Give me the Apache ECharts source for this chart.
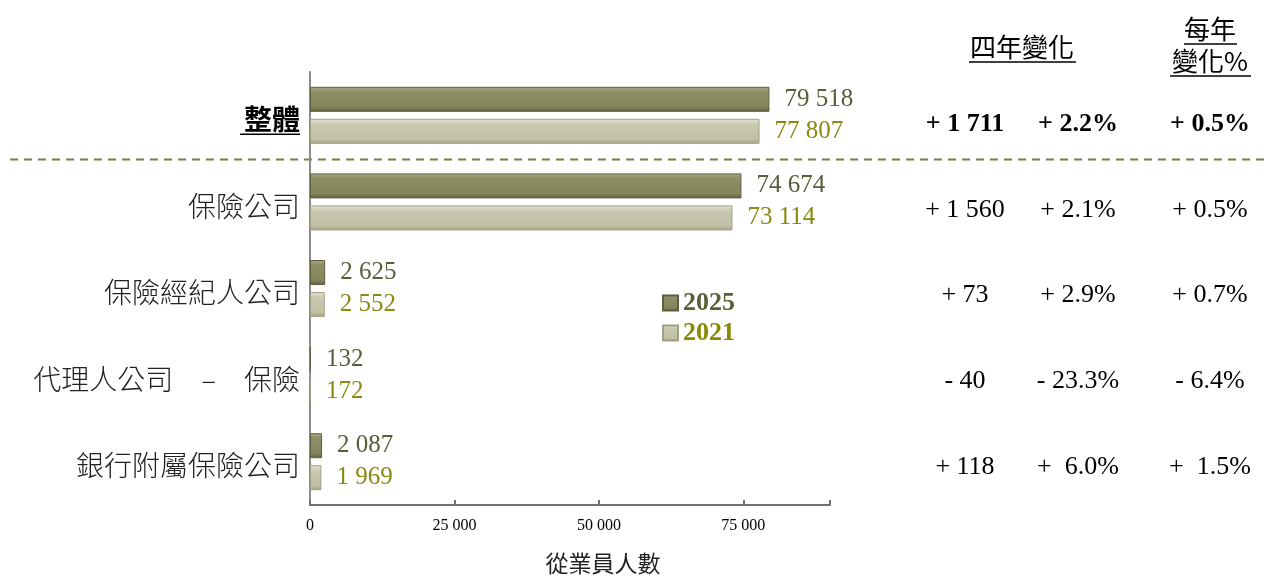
<!DOCTYPE html>
<html><head><meta charset="utf-8">
<script src="https://cdn.jsdelivr.net/npm/echarts@6/dist/echarts.min.js"></script>
<style>html,body{margin:0;padding:0;background:#fff}#c{width:1264px;height:576px}</style>
</head><body><div id="c"></div>
<script>
const categories = ['整體', '保險公司', '保險經紀人公司', '代理人公司　–　保險', '銀行附屬保險公司'];
const v2025 = [79518, 74674, 2625, 132, 2087];
const v2021 = [77807, 73114, 2552, 172, 1969];
const changeAbs = ['+ 1 711', '+ 1 560', '+ 73', '- 40', '+ 118'];
const changePct = ['+ 2.2%', '+ 2.1%', '+ 2.9%', '- 23.3%', '+  6.0%'];
const annualPct = ['+ 0.5%', '+ 0.5%', '+ 0.7%', '- 6.4%', '+  1.5%'];
const xTicks = [0, 25000, 50000, 75000];
const seriesNames = ['2025', '2021'];

const fmt = v => String(v).replace(/\B(?=(\d{3})+(?!\d))/g, ' ');
const CJK = '"Noto Sans CJK TC","Noto Sans CJK SC",sans-serif';
const SERIF = '"Liberation Serif","DejaVu Serif",serif';

const chart = echarts.init(document.getElementById('c'));
const grad = (stops) => new echarts.graphic.LinearGradient(0, 0, 0, 1, stops.map((c, i) => ({offset: c[0], color: c[1]})));
const c2025 = grad([[0,'#a8a884'],[0.2,'#8e8e66'],[0.8,'#86865d'],[1,'#5e5e3e']]);
const c2021 = grad([[0,'#e0e0cf'],[0.25,'#c8c8b0'],[0.8,'#c1c1a6'],[1,'#a3a388']]);

chart.setOption({
  animation: false,
  grid: {left: 310, right: 434, top: 72, bottom: 71, containLabel: false, outerBoundsMode: 'none'},
  legend: {
    orient: 'vertical', left: 662, top: 290, padding: 0, itemWidth: 15, itemHeight: 15, itemGap: 4, icon: 'rect',
    textStyle: {fontFamily: SERIF, fontSize: 26, fontWeight: 'bold'},
    data: [
      {name: seriesNames[0], textStyle: {color: '#5c5e36'}},
      {name: seriesNames[1], textStyle: {color: '#8a8a00'}}
    ]
  },
  xAxis: {
    type: 'value', min: 0, max: 90000, interval: 25000,
    axisLine: {show: true, lineStyle: {color: '#707070', width: 2}},
    axisTick: {show: true, inside: true, length: 5, lineStyle: {color: '#707070', width: 2}},
    splitLine: {show: false},
    axisLabel: {
      fontFamily: SERIF, fontSize: 16, color: '#000', margin: 13,
      formatter: v => xTicks.includes(v) ? fmt(v) : ''
    },
    name: '從業員人數', nameLocation: 'middle', nameGap: 47,
    nameTextStyle: {fontFamily: CJK, fontSize: 23, color: '#222', padding: [0, 0, 0, 66]}
  },
  yAxis: {
    type: 'category', inverse: true, data: categories,
    axisLine: {show: true, lineStyle: {color: '#8c8c8c', width: 2}},
    axisTick: {show: false},
    axisLabel: {
      margin: 10, fontFamily: CJK, fontSize: 28, fontWeight: 300, color: '#222',
      padding: [8, 0, 0, 0],
      formatter: (v, i) => i === 0 ? '{b|' + v + '}' : v,
      rich: {b: {fontFamily: CJK, fontSize: 28, fontWeight: 'bold', color: '#000'}}
    }
  },
  series: [
    {
      name: seriesNames[0], type: 'bar', data: v2025, barWidth: 25, barGap: '28%',
      itemStyle: {color: c2025, borderColor: '#5f5f40', borderWidth: 1},
      label: {show: true, position: 'right', distance: 15, formatter: p => fmt(p.value),
        fontFamily: SERIF, fontSize: 25, color: '#5c5c3a'}
    },
    {
      name: seriesNames[1], type: 'bar', data: v2021, barWidth: 25,
      itemStyle: {color: c2021, borderColor: '#a0a085', borderWidth: 1},
      label: {show: true, position: 'right', distance: 15, formatter: p => fmt(p.value),
        fontFamily: SERIF, fontSize: 25, color: '#8a8a10'}
    }
  ]
});

// Right-hand table and decorations positioned from the category scale
const gfx = [];
const colX = [965, 1078, 1210];
const cols = [changeAbs, changePct, annualPct];
categories.forEach((c, i) => {
  const y = chart.convertToPixel({yAxisIndex: 0}, c) + 9 - i;
  cols.forEach((col, k) => {
    gfx.push({type: 'text', x: colX[k], y: y, style: {
      text: col[i], fill: '#000', font: (i === 0 ? 'bold ' : '') + '26px ' + SERIF,
      align: 'center', verticalAlign: 'middle'}});
  });
});
// separator between overall and sub-categories
const y0 = chart.convertToPixel({yAxisIndex: 0}, categories[0]);
const y1 = chart.convertToPixel({yAxisIndex: 0}, categories[1]);
const sepY = (y0 + y1) / 2 + 1;
gfx.push({type: 'line', shape: {x1: 10, y1: sepY, x2: 1264, y2: sepY},
  style: {stroke: '#7b7b45', lineWidth: 2, lineDash: [8, 6]}});
// headers
gfx.push({type: 'text', x: 1022, y: 47, style: {text: '四年變化', fill: '#000', font: '26px ' + CJK, align: 'center', verticalAlign: 'middle'}});
gfx.push({type: 'line', shape: {x1: 969, y1: 62, x2: 1076, y2: 62}, style: {stroke: '#000', lineWidth: 1.5}});
gfx.push({type: 'text', x: 1210, y: 29, style: {text: '每年', fill: '#000', font: '26px ' + CJK, align: 'center', verticalAlign: 'middle'}});
gfx.push({type: 'line', shape: {x1: 1184, y1: 44, x2: 1237, y2: 44}, style: {stroke: '#000', lineWidth: 1.5}});
gfx.push({type: 'text', x: 1210, y: 61, style: {text: '變化%', fill: '#000', font: '26px ' + CJK, align: 'center', verticalAlign: 'middle'}});
gfx.push({type: 'line', shape: {x1: 1170, y1: 76, x2: 1251, y2: 76}, style: {stroke: '#000', lineWidth: 1.5}});
// underline for overall label
gfx.push({type: 'line', shape: {x1: 240, y1: y0 + 19, x2: 300, y2: y0 + 19}, style: {stroke: '#000', lineWidth: 1.5}});
chart.setOption({graphic: gfx});
</script></body></html>
